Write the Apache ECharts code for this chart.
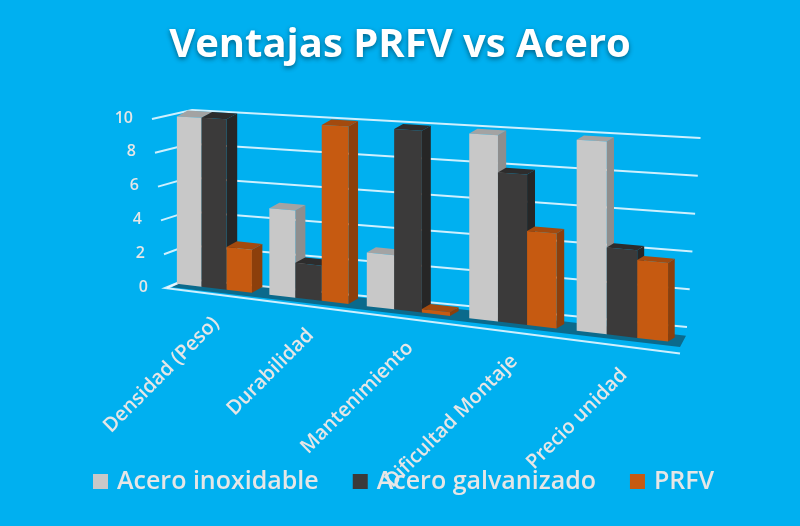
<!DOCTYPE html>
<html>
<head>
<meta charset="utf-8">
<script src="https://cdn.jsdelivr.net/npm/echarts@6/dist/echarts.min.js"></script>
<style>
html,body{margin:0;padding:0;background:#00b0f0;}
#chart{width:800px;height:526px;}
</style>
</head>
<body>
<div id="chart"></div>
<script>
// ---------- data ----------
const categories = ['Densidad (Peso)', 'Durabilidad', 'Mantenimiento', 'Dificultad Montaje', 'Precio unidad'];
const seriesNames = ['Acero inoxidable', 'Acero galvanizado', 'PRFV'];
const aceroInoxidable = [10, 5, 3, 10, 10];
const aceroGalvanizado = [10, 2, 10, 8, 4.5];
const prfv = [2.5, 10, 0.2, 5, 4];
const yTicks = [0, 2, 4, 6, 8, 10];

// ---------- view (pseudo-3D projection styling) ----------
const VIEW = {
  warpC: 0.000295,      // horizontal perspective warp
  barFrac: 0.272,       // bar width as fraction of band
  floorSlope: 0.1175,   // slope of bar baseline
  frontSlope: 0.127,    // slope of floor front edge
  scaleK: 0.00035,      // vertical perspective growth
  font: 'Open Sans'
};
const COLORS = [
  {front: '#c8c8c8', side: '#8e8e8e', top: '#a3a3a3'},
  {front: '#3b3a3a', side: '#262626', top: '#2d2c2c'},
  {front: '#c65a11', side: '#8c3f0b', top: '#a34a0e'}
];

function ctx(params, api) {
  const cs = params.coordSys;
  const gl = cs.x, gb = cs.y + cs.height;
  const x0 = api.coord([0, 0])[0];
  const ref = gl + 19;
  return {
    gl: gl, gb: gb,
    W: x => x + VIEW.warpC * (x - x0) * (x - x0),
    yb: X => gb - 2 + VIEW.floorSlope * (X - ref),
    yF: X => gb + 1 + VIEW.frontSlope * (X - (gl - 3)),
    s: X => 0.994 + VIEW.scaleK * (X - ref),
    D: X => [11 - 0.009 * (X - ref), -6 + 0.004 * (X - ref)]
  };
}

function barSeries(name, values, k) {
  const c = COLORS[k];
  return {
    type: 'custom',
    name: name,
    z: 3,
    clip: false,
    silent: true,
    itemStyle: {color: c.front},
    data: values.map((v, i) => [i, v]),
    encode: {x: 0, y: 1},
    renderItem: function (params, api) {
      const P = ctx(params, api);
      const i = api.value(0), v = api.value(1);
      const base = api.coord([i, 0]);
      const top = api.coord([i, v]);
      const band = api.size([1, 0])[0];
      const bw = band * VIEW.barFrac;
      const xgl = base[0] - 1.5 * bw + k * bw;
      const xgr = xgl + bw;
      const h = base[1] - top[1];
      const XL = P.W(xgl), XR = P.W(xgr);
      const bL = P.yb(XL), bR = P.yb(XR);
      const tL = bL - h * P.s(XL), tR = bR - h * P.s(XR);
      const d = P.D(XR);
      return {
        type: 'group',
        children: [
          {type: 'polygon', shape: {points: [[XR, bR], [XR + d[0], bR + d[1]], [XR + d[0], tR + d[1]], [XR, tR]]},
            style: {fill: c.side}},
          {type: 'polygon', shape: {points: [[XL, tL], [XR, tR], [XR + d[0], tR + d[1]], [XL + d[0], tL + d[1]]]},
            style: {fill: c.top}},
          {type: 'polygon', shape: {points: [[XL, bL], [XR, bR], [XR, tR], [XL, tL]]},
            style: {fill: c.front}}
        ]
      };
    }
  };
}

const sceneSeries = {
  type: 'custom',
  name: 'scene',
  z: 1,
  clip: false,
  silent: true,
  data: yTicks.map(v => [0, v]),
  encode: {x: 0, y: 1},
  renderItem: function (params, api) {
    const P = ctx(params, api);
    const gl = P.gl, gb = P.gb;
    const v = api.value(1);
    const h = gb - api.coord([0, v])[1];
    const lineStyle = {stroke: 'rgba(235,248,255,0.88)', lineWidth: 2, fill: null};
    const children = [
      {type: 'polyline', shape: {points: [
        [gl - 1 - 0.089 * h, gb + 1 - h],
        [gl + 19 + 0.03 * h, gb - 8 - h],
        [gl + 519 + 0.08 * h, gb + 40 - 1.118 * h]
      ]}, style: lineStyle}
    ];
    if (params.dataIndex === 0) {
      const a = gl + 4, b = gl + 512;
      children.unshift({type: 'polygon', shape: {points: [
        [a, P.yb(a) + 4], [b, P.yb(b) + 4], [b + 6, P.yb(b + 6) - 8], [a + 10, P.yb(a + 10) - 8]
      ]}, style: {fill: '#0b6a8c'}});
      children.push({type: 'polyline', shape: {points: [
        [gl + 19, gb - 8], [gl - 3, P.yF(gl - 3)], [gl + 512, P.yF(gl + 512)]
      ]}, style: lineStyle});
    }
    return {type: 'group', children: children};
  }
};

const labelSeries = {
  type: 'custom',
  name: 'labels',
  z: 4,
  clip: false,
  silent: true,
  data: categories.map((c, i) => [i, 0]),
  encode: {x: 0, y: 1},
  renderItem: function (params, api) {
    const P = ctx(params, api);
    const i = api.value(0);
    const S = P.W(api.coord([i, 0])[0]);
    return {
      type: 'text',
      x: S + 2,
      y: P.yF(S) + 26,
      rotation: Math.PI / 4,
      style: {
        text: categories[i],
        align: 'right',
        verticalAlign: 'middle',
        fill: '#e6e6e6',
        font: '600 20px "Open Sans"'
      }
    };
  }
};

const rich = {};
yTicks.forEach(v => {
  rich['l' + v] = {padding: [0, v * 1.5, 0, 0], fontSize: 16, fontWeight: 600, color: '#e6e6e6', fontFamily: VIEW.font};
});

const chart = echarts.init(document.getElementById('chart'));
chart.setOption({
  backgroundColor: '#00b0f0',
  animation: false,
  title: {
    text: 'Ventajas PRFV vs Acero',
    left: 'center',
    top: 21,
    textStyle: {
      color: '#ffffff', fontSize: 40, fontWeight: 'bold', fontFamily: VIEW.font,
      textShadowColor: 'rgba(0,0,0,0.45)', textShadowBlur: 5, textShadowOffsetY: 2
    }
  },
  legend: {
    data: seriesNames,
    left: 88,
    top: 464,
    icon: 'rect',
    itemWidth: 15,
    itemHeight: 15,
    itemGap: 34,
    textStyle: {color: '#e6e6e6', fontSize: 25, fontWeight: 600, fontFamily: VIEW.font, padding: [0, 0, 0, 4]}
  },
  grid: {left: 168, right: 172, top: 118, bottom: 239, containLabel: false},
  xAxis: {
    type: 'category', data: categories,
    axisLine: {show: false}, axisTick: {show: false}, axisLabel: {show: false}, splitLine: {show: false}
  },
  yAxis: {
    type: 'value', min: 0, max: 10, interval: 2,
    axisLine: {show: false}, axisTick: {show: false}, splitLine: {show: false},
    axisLabel: {margin: 20, formatter: v => '{l' + v + '|' + v + '}', rich: rich}
  },
  series: [
    sceneSeries,
    barSeries(seriesNames[0], aceroInoxidable, 0),
    barSeries(seriesNames[1], aceroGalvanizado, 1),
    barSeries(seriesNames[2], prfv, 2),
    labelSeries
  ]
});
</script>
</body>
</html>
